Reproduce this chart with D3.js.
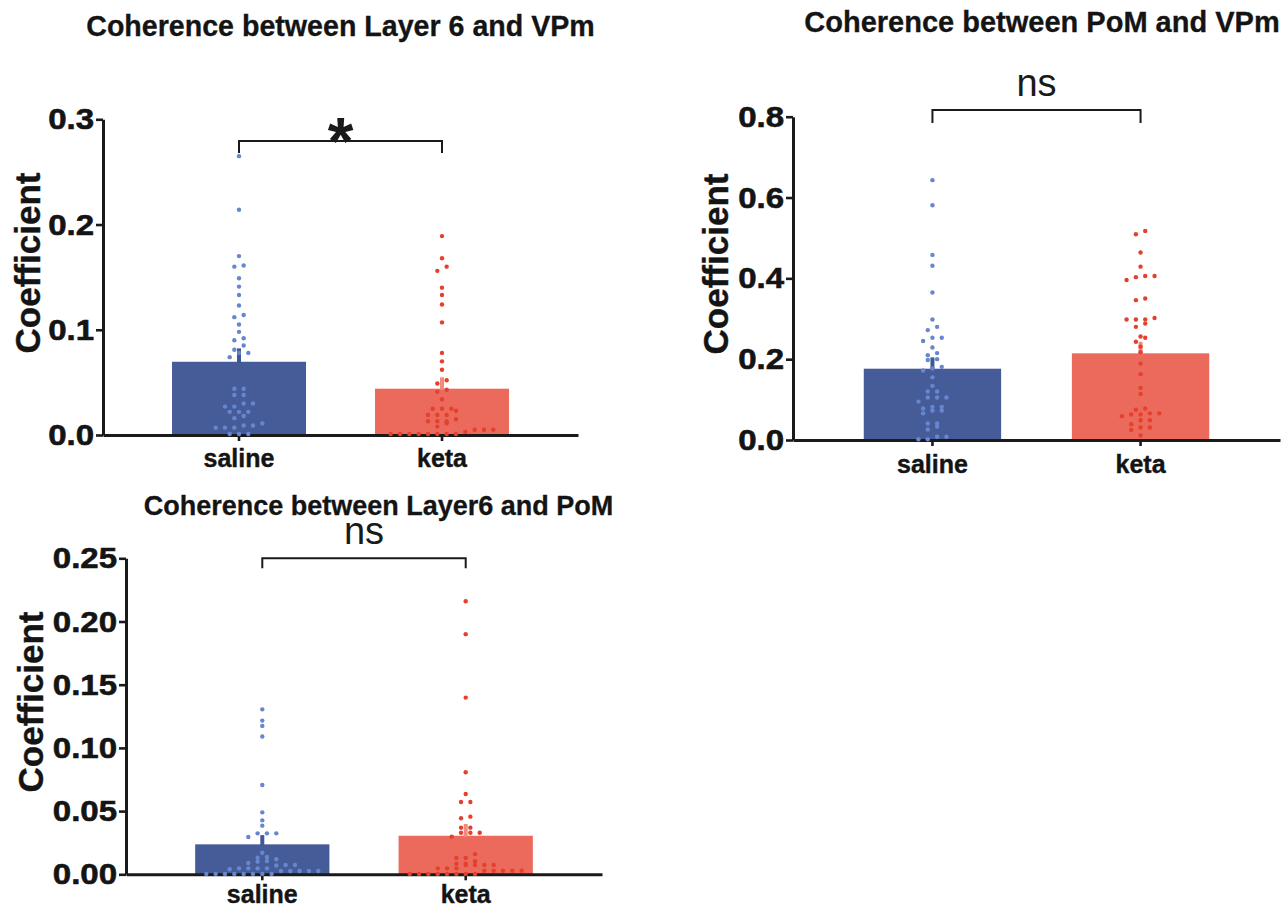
<!DOCTYPE html>
<html>
<head>
<meta charset="utf-8">
<script src="https://cdn.jsdelivr.net/npm/d3@7"></script>
<style>
  html, body { margin: 0; padding: 0; background: #ffffff; }
  svg { display: block; }
  text { font-family: "Liberation Sans", Arial, Helvetica, sans-serif; }
</style>
</head>
<body>
<svg id="chart" width="1287" height="907"></svg>
<script>
// ---------------- DATA ----------------
const categories = ["saline", "keta"];

const titles = [
  "Coherence between Layer 6 and VPm",
  "Coherence between PoM and VPm",
  "Coherence between Layer6 and PoM"
];
const yLabel = "Coefficient";
const sigLabels = ["*", "ns", "ns"];

// tick values per panel
const ticks1 = [0, 0.1, 0.2, 0.3];
const ticks2 = [0, 0.2, 0.4, 0.6, 0.8];
const ticks3 = [0, 0.05, 0.10, 0.15, 0.20, 0.25];

// bar means and SEM per panel [saline, keta]
const means1 = [0.0696, 0.0440];
const sem1   = [0.0127, 0.0108];
const means2 = [0.1764, 0.2145];
const sem2   = [0.0280, 0.0285];
const means3 = [0.0237, 0.0305];
const sem3   = [0.0073, 0.0093];

// individual points: Layer 6 - VPm
const p1Saline = [0.265, 0.214, 0.170, 0.161, 0.160, 0.149, 0.141, 0.133, 0.123, 0.114,
  0.112, 0.105, 0.098, 0.092, 0.090, 0.085, 0.081, 0.078, 0.078, 0.074,
  0.044, 0.044, 0.038, 0.038, 0.030, 0.030, 0.027, 0.027, 0.022, 0.022,
  0.022, 0.018, 0.016, 0.011, 0.009, 0.009, 0.007, 0.007, 0.007, 0.001, 0.001, 0.001];
const p1Keta = [0.189, 0.168, 0.160, 0.156, 0.140, 0.133, 0.124, 0.107, 0.078, 0.070,
  0.062, 0.052, 0.049, 0.043, 0.041, 0.034, 0.025, 0.025, 0.025, 0.023,
  0.019, 0.019, 0.019, 0.015, 0.013, 0.013, 0.013, 0.011, 0.008, 0.005,
  0.005, 0.005, 0.003, 0.001, 0.001, 0.001, 0.001, 0.001, 0.001, 0.001, 0.001];

// individual points: PoM - VPm
const p2Saline = [0.643, 0.581, 0.458, 0.431, 0.365, 0.298, 0.280, 0.272, 0.253, 0.253,
  0.245, 0.229, 0.215, 0.210, 0.200, 0.198, 0.181, 0.177, 0.172, 0.155,
  0.134, 0.120, 0.120, 0.105, 0.105, 0.105, 0.095, 0.082, 0.082, 0.078,
  0.073, 0.073, 0.066, 0.041, 0.041, 0.033, 0.026, 0.008, 0.008, 0.002, 0.002];
const p2Keta = [0.517, 0.509, 0.464, 0.429, 0.406, 0.406, 0.403, 0.396, 0.350, 0.346,
  0.302, 0.298, 0.298, 0.298, 0.288, 0.280, 0.256, 0.253, 0.243, 0.231,
  0.217, 0.189, 0.163, 0.129, 0.114, 0.078, 0.075, 0.066, 0.066, 0.063,
  0.063, 0.059, 0.049, 0.049, 0.039, 0.031, 0.031, 0.025, 0.011];

// individual points: Layer6 - PoM
const p3Saline = [0.1305, 0.1216, 0.1174, 0.1090, 0.0706, 0.0490, 0.0427, 0.0385, 0.0324, 0.0324,
  0.0324, 0.0295, 0.0171, 0.0137, 0.0131, 0.0119, 0.0105, 0.0100, 0.0089, 0.0074,
  0.0074, 0.0070, 0.0047, 0.0047, 0.0047, 0.0047, 0.0040, 0.0026, 0.0026, 0.0026,
  0.0026, 0.0026, 0.0003, 0.0003, 0.0003, 0.0003, 0.0003, 0.0003, 0.0003, 0.0003];
const p3Keta = [0.2160, 0.1900, 0.1398, 0.0807, 0.0635, 0.0572, 0.0572, 0.0456, 0.0443, 0.0369,
  0.0369, 0.0329, 0.0329, 0.0329, 0.0298, 0.0160, 0.0129, 0.0129, 0.0103, 0.0084,
  0.0084, 0.0074, 0.0074, 0.0074, 0.0074, 0.0047, 0.0047, 0.0047, 0.0028, 0.0028,
  0.0028, 0.0028, 0.0028, 0.0003, 0.0003, 0.0003, 0.0003, 0.0003, 0.0003, 0.0003, 0.0003];

// ---------------- STYLE / LAYOUT ----------------
const colors = {
  bar: ["#465c99", "#ec6a5c"],
  dot: ["#6687cf", "#e4402e"],
  err: ["#3f5896", "#f28b7e"],
  axis: "#1a1a1a",
  text: "#141414"
};

const panels = [
  { title: titles[0], titleX: 340.5, titleY: 35.5, titleSize: 28.6,
    x0: 103, x1: 578, yTop: 119.3, yBot: 435, domain: [0, 0.3], ticks: ticks1, fmt: ".1f",
    means: means1, sem: sem1, pts: [p1Saline, p1Keta],
    labelX: 40, labelY: 263, xLabPad: 8,
    bracketY: 141, bracketDrop: 12, sig: sigLabels[0] },
  { title: titles[1], titleX: 1042, titleY: 31.5, titleSize: 29,
    x0: 793, x1: 1280, yTop: 116.7, yBot: 440, domain: [0, 0.8], ticks: ticks2, fmt: ".1f",
    means: means2, sem: sem2, pts: [p2Saline, p2Keta],
    labelX: 728, labelY: 264, xLabPad: 9,
    bracketY: 110, bracketDrop: 13, sig: sigLabels[1] },
  { title: titles[2], titleX: 378.5, titleY: 514.5, titleSize: 27,
    x0: 126, x1: 602, yTop: 558.3, yBot: 874.3, domain: [0, 0.25], ticks: ticks3, fmt: ".2f",
    means: means3, sem: sem3, pts: [p3Saline, p3Keta],
    labelX: 43, labelY: 702, xLabPad: 5,
    bracketY: 558.3, bracketDrop: 10, sig: sigLabels[2] }
];

const svg = d3.select("#chart");
svg.append("rect").attr("width", 1287).attr("height", 907).attr("fill", "#fff");

const DOT_R = 2.2;
const STEP = 9.33;
const ROW_H = 4.5;
const TICK_STRETCH = 1.1;

function swarm(values, y, cx) {
  const pts = values.map(v => ({ v, y: y(v) })).sort((a, b) => b.y - a.y); // bottom first
  const rows = [];
  let cur = null;
  for (const p of pts) {
    if (!cur || cur.y0 - p.y > ROW_H) { cur = { y0: p.y, pts: [] }; rows.push(cur); }
    cur.pts.push(p);
  }
  const out = [];
  rows.forEach(r => {
    const n = r.pts.length;
    r.pts.forEach((p, i) => {
      out.push({ cx: cx + (i - (n - 1) / 2) * STEP, cy: p.y });
    });
  });
  return out;
}

panels.forEach((P, pi) => {
  const g = svg.append("g");
  const x = d3.scaleBand().domain(categories).range([P.x0, P.x1])
    .paddingInner(0.34).paddingOuter(0.34);
  const y = d3.scaleLinear().domain(P.domain).range([P.yBot, P.yTop]);

  // title
  g.append("text").attr("x", P.titleX).attr("y", P.titleY)
    .attr("text-anchor", "middle").attr("font-weight", "bold")
    .attr("font-size", P.titleSize).attr("fill", colors.text)
    .attr("stroke", colors.text).attr("stroke-width", 0.3)
    .text(P.title);

  // bars
  g.selectAll("rect.bar").data(categories).join("rect")
    .attr("class", "bar")
    .attr("x", d => x(d)).attr("width", x.bandwidth())
    .attr("y", (d, i) => y(P.means[i]))
    .attr("height", (d, i) => y(0) - y(P.means[i]))
    .attr("fill", (d, i) => colors.bar[i]);

  // error bars (upper only)
  g.selectAll("rect.err").data(categories).join("rect")
    .attr("class", "err")
    .attr("x", d => x(d) + x.bandwidth() / 2 - 2).attr("width", 4)
    .attr("y", (d, i) => y(P.means[i] + P.sem[i]))
    .attr("height", (d, i) => y(P.means[i]) - y(P.means[i] + P.sem[i]) + 1)
    .attr("fill", (d, i) => colors.err[i]);

  // y axis
  const yAxis = g.append("g").attr("transform", `translate(${P.x0},0)`)
    .call(d3.axisLeft(y).tickValues(P.ticks).tickFormat(d3.format(P.fmt))
      .tickSize(7).tickPadding(2).tickSizeOuter(0));
  yAxis.select(".domain").attr("stroke", colors.axis).attr("stroke-width", 3);
  yAxis.selectAll(".tick line").attr("stroke", colors.axis).attr("stroke-width", 2.6);
  yAxis.selectAll(".tick text")
    .attr("font-size", 30).attr("font-weight", "bold").attr("fill", colors.text)
    .attr("stroke", colors.text).attr("stroke-width", 0.6)
    .attr("font-family", "'Liberation Sans', Arial, sans-serif")
    .attr("x", -9 / TICK_STRETCH).attr("transform", `scale(${TICK_STRETCH},1)`);

  // x axis
  const xAxis = g.append("g").attr("transform", `translate(0,${P.yBot})`)
    .call(d3.axisBottom(x).tickSize(6).tickPadding(P.xLabPad).tickSizeOuter(0));
  xAxis.select(".domain").attr("stroke", colors.axis).attr("stroke-width", 3);
  xAxis.selectAll(".tick line").attr("stroke", colors.axis).attr("stroke-width", 2.6);
  xAxis.selectAll(".tick text")
    .attr("font-size", 25).attr("font-weight", "bold").attr("fill", colors.text)
    .attr("stroke", colors.text).attr("stroke-width", 0.4)
    .attr("font-family", "'Liberation Sans', Arial, sans-serif");

  // dots (drawn over bars and axis)
  categories.forEach((c, ci) => {
    const cx = x(c) + x.bandwidth() / 2;
    const pos = swarm(P.pts[ci], y, cx);
    g.append("g").selectAll("circle").data(pos).join("circle")
      .attr("cx", d => d.cx).attr("cy", d => d.cy).attr("r", DOT_R)
      .attr("fill", colors.dot[ci]);
  });

  // y label
  g.append("text")
    .attr("transform", `translate(${P.labelX},${P.labelY}) rotate(-90)`)
    .attr("text-anchor", "middle").attr("font-weight", "bold")
    .attr("font-size", 35).attr("fill", colors.text)
    .attr("stroke", colors.text).attr("stroke-width", 0.4)
    .text(yLabel);

  // significance bracket
  const xa = x(categories[0]) + x.bandwidth() / 2;
  const xb = x(categories[1]) + x.bandwidth() / 2;
  g.append("path")
    .attr("d", `M${xa},${P.bracketY + P.bracketDrop}V${P.bracketY}H${xb}V${P.bracketY + P.bracketDrop}`)
    .attr("fill", "none").attr("stroke", "#1a1a1a").attr("stroke-width", 2);

  if (P.sig === "*") {
    g.append("text").attr("x", (xa + xb) / 2).attr("y", 164)
      .attr("text-anchor", "middle").attr("font-weight", "bold")
      .attr("font-size", 66).attr("fill", "#1a1a1a").text(P.sig);
  } else {
    g.append("text").attr("x", (xa + xb) / 2).attr("y", P.bracketY - 14.5)
      .attr("text-anchor", "middle")
      .attr("font-size", 38).attr("fill", "#1a1a1a").text(P.sig);
  }
});
</script>
</body>
</html>
